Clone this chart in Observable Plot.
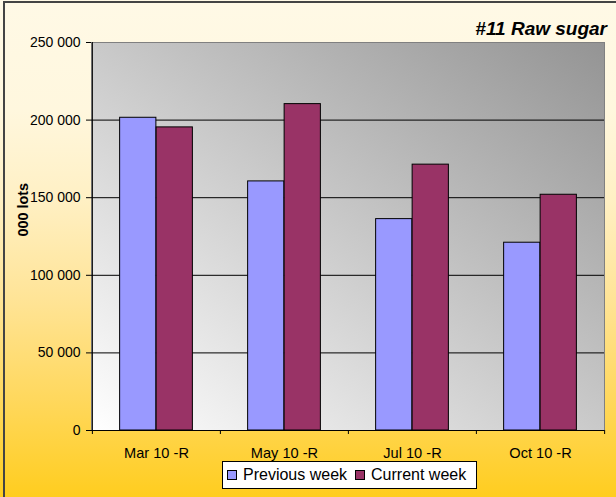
<!DOCTYPE html>
<html>
<head>
<meta charset="utf-8">
<script src="https://cdn.jsdelivr.net/npm/d3@7"></script>
<script src="https://cdn.jsdelivr.net/npm/@observablehq/plot@0.6"></script>
<style>
  body { margin: 0; }
  #wrap {
    position: relative; width: 616px; height: 497px; overflow: hidden;
    background: linear-gradient(to bottom, #FFF9E6 0%, #FFF7DE 22%, #FFF0C4 40%, #FFE497 60%, #FFD85E 80%, #FFCD1F 100%);
    font-family: "Liberation Sans", Arial, sans-serif;
  }
  #border {
    position: absolute; left: 3px; top: 1px; right: -10px; bottom: -10px;
    border-left: 2px solid #444; border-top: 2px solid #444; pointer-events: none;
  }
  #title {
    position: absolute; right: 9px; top: 18px; line-height: 19px;
    font: italic bold 19px "Liberation Sans", Arial, sans-serif; color: #000;
  }
  #chart svg { position: absolute; left: 0; top: 0; }
  #legend {
    position: absolute; left: 222px; top: 461px; width: 255px; height: 28px;
    box-sizing: border-box; border: 1px solid #000; background: #fff;
    display: flex; align-items: center; padding-left: 4px; white-space: nowrap;
    font: 16px "Liberation Sans", Arial, sans-serif; color: #000;
  }
  .item { display: flex; align-items: center; margin-right: 8px; flex: 0 0 auto; white-space: nowrap; }
  .sw { width: 10px; height: 10px; box-sizing: border-box; border: 1px solid #000; margin-right: 6px; flex: 0 0 auto; }
</style>
</head>
<body>
<div id="wrap">
  <div id="chart"></div>
  <div id="title">#11 Raw sugar</div>
  <div id="legend"></div>
  <div id="border"></div>
</div>
<script>
const categories = ["Mar 10 -R", "May 10 -R", "Jul 10 -R", "Oct 10 -R"];
const previousWeek = [201500, 160500, 136200, 121000];
const currentWeek = [195300, 210300, 171300, 151900];
const seriesNames = ["Previous week", "Current week"];
const seriesColors = ["#9999FF", "#993366"];
const yTicks = [0, 50000, 100000, 150000, 200000, 250000];
const gridValues = [50000, 100000, 150000, 200000];
const yLabel = "000 lots";

const W = 616, H = 497, mL = 91, mR = 12, mT = 42, mB = 67;
const bw = (W - mL - mR) / categories.length;
const barW = 36.5;
const side = (bw - 2 * barW) / 2;
const fmt = d => d3.format(",")(d).replace(/,/g, " ");

const svg = Plot.plot({
  width: W, height: H,
  marginLeft: mL, marginRight: mR, marginTop: mT, marginBottom: mB,
  style: { background: "transparent", color: "#000", fontFamily: "Liberation Sans, Arial, sans-serif", overflow: "visible" },
  x: { type: "band", domain: categories, padding: 0 },
  y: { domain: [0, 250000] },
  marks: [
    Plot.frame({ fill: "url(#plotGrad)", stroke: "#808080" }),
    Plot.ruleY(gridValues, { stroke: "#000", strokeWidth: 1 }),
    Plot.barY(categories, { x: d => d, y: (d, i) => previousWeek[i], fill: seriesColors[0], stroke: "#000", strokeWidth: 1, insetLeft: side, insetRight: side + barW }),
    Plot.barY(categories, { x: d => d, y: (d, i) => currentWeek[i], fill: seriesColors[1], stroke: "#000", strokeWidth: 1, insetLeft: side + barW, insetRight: side }),
    Plot.ruleY([0], { stroke: "#000" }),
    Plot.ruleX([categories[0]], { x: d => d, dx: -bw / 2, y1: 0, y2: 250000, stroke: "#000" }),
    Plot.ruleX(categories, { x: d => d, dx: -bw / 2, y1: 0, y2: 0, insetBottom: -4, stroke: "#000" }),
    Plot.ruleX([categories[categories.length - 1]], { x: d => d, dx: bw / 2, y1: 0, y2: 0, insetBottom: -4, stroke: "#000" }),
    Plot.axisY({ ticks: yTicks, tickFormat: fmt, tickSize: 5, tickPadding: 6, fontSize: 14, label: null }),
    Plot.axisX({ tickSize: 0, tickPadding: 17, fontSize: 14.6, label: null }),
    Plot.text([yLabel], { text: d => d, frameAnchor: "left", dx: -68, rotate: -90, fontWeight: "bold", fontSize: 14.4 })
  ]
});

const defs = d3.select(svg).insert("defs", ":first-child");
const g = defs.append("linearGradient").attr("id", "plotGrad")
  .attr("x1", 0).attr("y1", 1).attr("x2", 1).attr("y2", 0);
g.append("stop").attr("offset", 0).attr("stop-color", "#FFFFFF");
g.append("stop").attr("offset", 1).attr("stop-color", "#949494");

document.getElementById("chart").appendChild(svg);

const legend = d3.select("#legend");
seriesNames.forEach((name, i) => {
  const it = legend.append("div").attr("class", "item");
  it.append("div").attr("class", "sw").style("background", seriesColors[i]);
  it.append("span").text(name);
});
</script>
</body>
</html>
